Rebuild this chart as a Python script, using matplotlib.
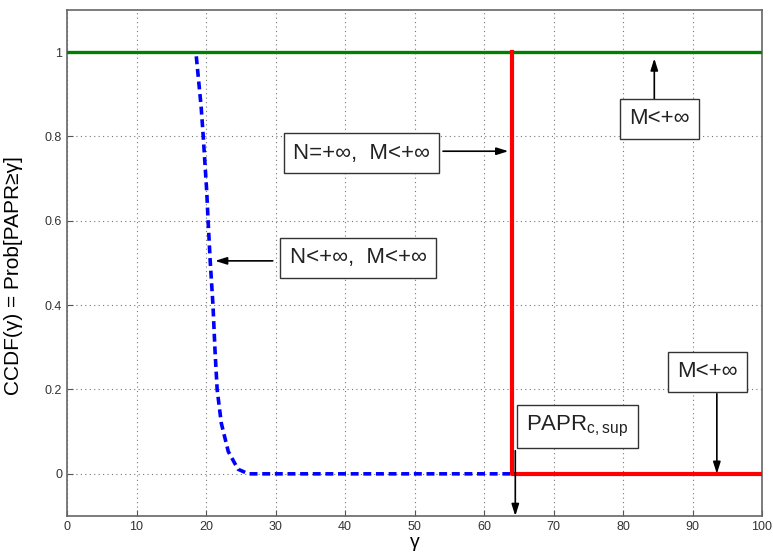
import matplotlib
matplotlib.use('Agg')
from matplotlib import pyplot as plt

plt.rcParams['font.family'] = ['Liberation Sans', 'DejaVu Sans']

# dashed blue curve: N<+inf, M<+inf
gamma_n = [18.6, 19.3, 19.6, 20.1, 20.3, 20.6, 21.0, 21.3, 21.6, 22.2, 23.2, 24.6, 26.1, 64.0]
ccdf_n = [0.99, 0.87, 0.80, 0.67, 0.60, 0.505, 0.40, 0.29, 0.20, 0.12, 0.053, 0.011, 0.0, 0.0]

# red step: N=+inf, M<+inf (PAPR_c,sup = 64)
papr_sup = 64.0
gamma_red = [papr_sup, papr_sup, 100]
ccdf_red = [1.0, 0.0, 0.0]

# green line: M<+inf
gamma_green = [0, 100]
ccdf_green = [1.0, 1.0]

# annotation boxes: text, box centre, arrow tail, arrow head
labels = ['N=+\u221e,  M<+\u221e', 'N<+\u221e,  M<+\u221e', 'M<+\u221e', 'M<+\u221e',
          'PAPR$_{\\mathregular{c,sup}}$']
box_xy = [(42.4, 0.76), (41.9, 0.512), (85.3, 0.842), (92.2, 0.242), (73.4, 0.112)]
arrow_from = [(54.1, 0.765), (29.6, 0.505), (84.5, 0.856), (93.5, 0.19), (64.5, 0.055)]
arrow_to = [(63.5, 0.765), (21.3, 0.505), (84.5, 0.985), (93.5, 0.0), (64.5, -0.1)]

fig = plt.figure(figsize=(7.73, 5.52), dpi=100)
ax = fig.add_axes([0.0867, 0.0652, 0.8991, 0.9168])

ax.plot(gamma_green, ccdf_green, color='#008000', lw=2.4, zorder=3)
ax.plot(gamma_n, ccdf_n, color='#0000ff', lw=2.6, ls=(0, (2.2, 1.3)), zorder=3)
ax.plot(gamma_red, ccdf_red, color='#ff0000', lw=3.0, zorder=3)

for lab, bxy, a0, a1 in zip(labels, box_xy, arrow_from, arrow_to):
    ax.annotate('', xy=a1, xytext=a0,
                arrowprops=dict(arrowstyle='-|>,head_length=0.7,head_width=0.22',
                                color='black', lw=1.2, shrinkA=0, shrinkB=0), zorder=4)
    ax.text(bxy[0], bxy[1], lab, fontsize=16, ha='center', va='center', color='#222222',
            bbox=dict(boxstyle='square,pad=0.42', fc='white', ec='#333333', lw=1.0), zorder=5)

ax.set_xlim(0, 100)
ax.set_ylim(-0.1, 1.1)
ax.set_xticks(range(0, 101, 10))
ax.set_yticks([0, 0.2, 0.4, 0.6, 0.8, 1])
ax.set_yticklabels(['0', '0.2', '0.4', '0.6', '0.8', '1'])
ax.tick_params(direction='in', labelsize=9, labelcolor='#333333', color='#555555', length=4)
ax.grid(True, ls=(0, (1, 3)), color='#777777', lw=0.8)
for s in ax.spines.values():
    s.set_color('#666666')
    s.set_linewidth(1.2)

ax.set_xlabel('\u03b3', fontsize=14, labelpad=1)
ax.set_ylabel('CCDF(\u03b3) = Prob[PAPR\u2265\u03b3]', fontsize=15)
ax.yaxis.set_label_coords(-0.063, 0.476)

plt.savefig('out.png', dpi=100)
